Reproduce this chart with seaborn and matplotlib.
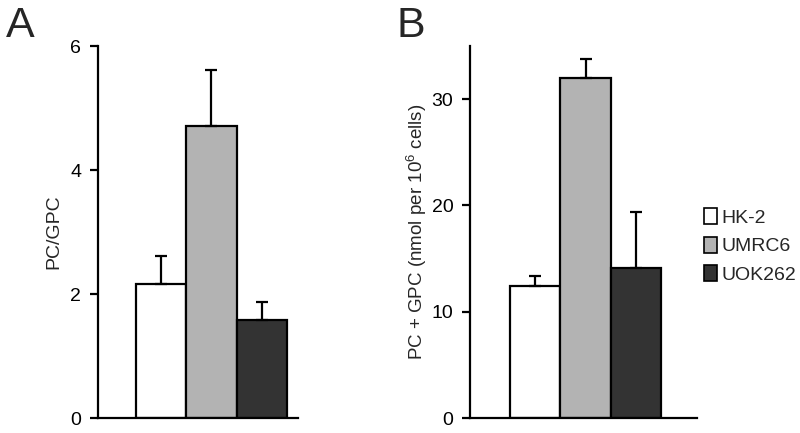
import matplotlib
matplotlib.use("Agg")
import matplotlib.pyplot as plt
import seaborn as sns
import pandas as pd
from matplotlib.patches import Patch

cells = ["HK-2", "UMRC6", "UOK262"]
ratio_mean = [2.16, 4.71, 1.58]
ratio_err = [0.45, 0.90, 0.29]
total_mean = [12.45, 32.0, 14.1]
total_err = [0.95, 1.8, 5.3]
colors = ["#ffffff", "#b3b3b3", "#333333"]

sns.set_style("white")
plt.rcParams["font.family"] = ["Liberation Sans", "DejaVu Sans"]
plt.rcParams["mathtext.fontset"] = "custom"
plt.rcParams["mathtext.rm"] = "Liberation Sans"
plt.rcParams["mathtext.it"] = "Liberation Sans:italic"

fig = plt.figure(figsize=(8, 4.33), dpi=100)
axA = fig.add_axes([0.1225, 0.0346, 0.25, 0.859])
axB = fig.add_axes([0.5875, 0.0346, 0.284, 0.859])

def panel(ax, means, errs, ylim, yticks, ylabel, xlim, lsize, lpad):
    df = pd.DataFrame({"cell": cells, "val": means})
    sns.barplot(data=df, x="cell", y="val", hue="cell", order=cells, hue_order=cells,
                palette=colors, edgecolor="black", linewidth=1.6, width=1.0,
                legend=False, ax=ax, errorbar=None)
    xs = [p.get_x() + p.get_width() / 2 for p in ax.patches[:3]]
    ax.errorbar(xs, means, yerr=[[0] * 3, errs], fmt="none", ecolor="black",
                elinewidth=1.6, capsize=4, capthick=1.6, zorder=1)
    ax.set_ylim(*ylim)
    ax.set_xlim(*xlim)
    ax.set_yticks(yticks)
    ax.set_xticks([])
    ax.set_xlabel("")
    ax.set_ylabel(ylabel, fontsize=lsize, labelpad=lpad)
    for s in ["top", "right"]:
        ax.spines[s].set_visible(False)
    for s in ["left", "bottom"]:
        ax.spines[s].set_linewidth(1.6)
        ax.spines[s].set_color("black")
    ax.tick_params(axis="y", which="both", left=True, direction="out", length=6,
                   width=1.6, labelsize=14, pad=6, colors="black")

panel(axA, ratio_mean, ratio_err, (0, 6), [0, 2, 4, 6], "PC/GPC", (-1.255, 2.72), 14, 6)
panel(axB, total_mean, total_err, (0, 35), [0, 10, 20, 30],
      r"PC + GPC (nmol per 10$^{6}$ cells)", (-1.295, 3.216), 13.5, 2)

fig.text(0.008, 0.985, "A", fontsize=31, va="top", ha="left")
fig.text(0.495, 0.985, "B", fontsize=31, va="top", ha="left")

handles = [Patch(facecolor=c, edgecolor="black", linewidth=1.2) for c in colors]
fig.legend(handles, cells, loc="center left", bbox_to_anchor=(0.870, 0.432),
           frameon=False, fontsize=14, handlelength=0.7, handleheight=0.9,
           handletextpad=0.2, labelspacing=0.5, borderaxespad=0)

fig.savefig("out.png", dpi=100)
